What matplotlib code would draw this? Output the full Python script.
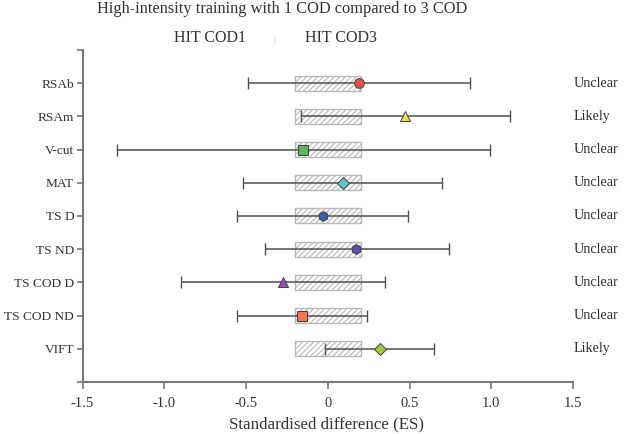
import matplotlib.pyplot as plt
import matplotlib as mpl

mpl.rcParams["font.family"] = ["Liberation Serif", "DejaVu Serif"]
mpl.rcParams["hatch.color"] = "#b4b4b4"
mpl.rcParams["hatch.linewidth"] = 0.8

# data
outcomes = ["RSAb", "RSAm", "V-cut", "MAT", "TS D", "TS ND", "TS COD D", "TS COD ND", "VIFT"]
effect = [0.19, 0.47, -0.15, 0.09, -0.03, 0.17, -0.275, -0.16, 0.32]
ci_low = [-0.49, -0.165, -1.29, -0.52, -0.555, -0.385, -0.90, -0.555, -0.02]
ci_high = [0.87, 1.115, 0.99, 0.70, 0.49, 0.74, 0.35, 0.24, 0.65]
inference = ["Unclear", "Likely", "Unclear", "Unclear", "Unclear", "Unclear", "Unclear", "Unclear", "Likely"]
trivial = (-0.2, 0.2)

markers = ["o", "^", "s", "D", "h", "h", "^", "s", "D"]
colors = ["#e0504a", "#e8e040", "#5cb85c", "#5bc8c8", "#3b5fb0", "#5a52b0", "#9b4fa8", "#f07850", "#a8c83c"]

fig = plt.figure(figsize=(6.25, 4.34), dpi=100)
ax = fig.add_axes([0.132, 0.12, 0.785, 0.765])

ypos = list(range(len(outcomes)))

ax.barh(ypos, trivial[1] - trivial[0], left=trivial[0], height=0.45,
        facecolor="white", edgecolor="#b8b8b8", hatch="//////", linewidth=1.0, zorder=1)

for i, y in enumerate(ypos):
    ax.errorbar(effect[i], y, xerr=[[effect[i] - ci_low[i]], [ci_high[i] - effect[i]]],
                fmt="none", ecolor="#505050", elinewidth=1.1, capsize=4, capthick=1.0, zorder=2)
    ax.plot(effect[i], y, marker=markers[i], color=colors[i], markersize=7 if markers[i] != "D" else 6,
            markeredgecolor="#404040", markeredgewidth=0.7, linestyle="none", zorder=3)
    ax.text(1.505, y, inference[i], ha="left", va="center", fontsize=10.2, color="#333333")

ax.set_xlim(-1.5, 1.5)
ax.set_ylim(9, -1)
ax.set_yticks(list(range(-1, 10)))
ax.set_yticklabels([""] + outcomes + [""])
ax.set_xticks([-1.5, -1.0, -0.5, 0, 0.5, 1.0, 1.5])
ax.set_xticklabels(["-1.5", "-1.0", "-0.5", "0", "0.5", "1.0", "1.5"])

for s in ["top", "right"]:
    ax.spines[s].set_visible(False)
for s in ["left", "bottom"]:
    ax.spines[s].set_color("#777777")
    ax.spines[s].set_linewidth(1.5)
ax.tick_params(axis="both", colors="#777777", labelcolor="#333333", length=5, width=1.2)
ax.tick_params(axis="y", labelsize=9.6, pad=2, length=4)
ax.tick_params(axis="x", labelsize=10.5, pad=6)

fig.text(0.451, 0.997, "High-intensity training with 1 COD compared to 3 COD",
         ha="center", va="top", fontsize=11.8, color="#333333")
fig.text(0.336, 0.913, "HIT COD1", ha="center", va="center", fontsize=11.5, color="#333333")
fig.text(0.546, 0.913, "HIT COD3", ha="center", va="center", fontsize=11.5, color="#333333")
fig.text(0.438, 0.907, "|", ha="center", va="center", fontsize=7, color="#cccccc")
fig.text(0.523, 0.003, "Standardised difference (ES)", ha="center", va="bottom",
         fontsize=12.2, color="#333333")

fig.savefig("out.png", dpi=100)
